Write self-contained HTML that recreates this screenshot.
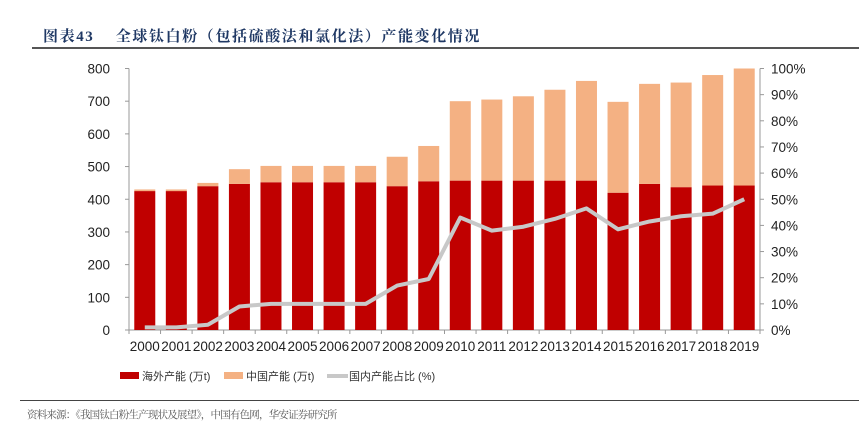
<!DOCTYPE html>
<html><head><meta charset="utf-8"><style>
body{margin:0;background:#fff;width:859px;height:433px;overflow:hidden;position:relative;font-family:"Liberation Sans","Noto Sans CJK SC",sans-serif;}
.t{position:absolute;white-space:nowrap;}
</style></head><body>
<div class="t" style="left:43px;top:25px;font-size:15px;font-weight:bold;color:#1f3864;font-family:'Liberation Serif','Noto Serif CJK SC',serif;letter-spacing:1.6px;">图表43&nbsp;&nbsp;&nbsp;&nbsp;全球钛白粉（包括硫酸法和氯化法）产能变化情况</div>
<div style="position:absolute;left:32px;top:47px;width:827px;height:2px;background:#555;"></div>
<svg id="c" width="859" height="433" style="position:absolute;left:0;top:0"></svg>
<div style="position:absolute;left:20px;top:400px;width:839px;height:1px;background:#444;"></div>
<div class="t" style="left:27px;top:407px;font-size:10.5px;color:#555;font-family:'Liberation Serif','Noto Serif CJK SC',serif;letter-spacing:-0.8px;">资料来源：《我国钛白粉生产现状及展望》，中国有色网，华安证券研究所</div>
<script>
const years=["2000","2001","2002","2003","2004","2005","2006","2007","2008","2009","2010","2011","2012","2013","2014","2015","2016","2017","2018","2019"];
const overseas=[425,425,440,447,452,452,452,452,440,455,457,457,457,457,457,420,447,437,442,442];
const china=[5,5,10,45,50,50,50,50,90,108,243,248,258,278,305,278,306,320,338,358];
const share=[1,1,2,9,10,10,10,10,17,19.5,43,38,39.5,42.5,46.5,38.5,41.5,43.5,44.5,50];
const leftTicks=[0,100,200,300,400,500,600,700,800];
const rightTicks=[0,10,20,30,40,50,60,70,80,90,100];
const NS="http://www.w3.org/2000/svg",svg=document.getElementById('c');
const X0=129,X1=760,Y0=330,Y1=68.5,n=years.length,bw=(X1-X0)/n,barW=21;
const yL=v=>Y0-(v/800)*(Y0-Y1), yR=p=>Y0-(p/100)*(Y0-Y1), xc=i=>X0+bw*(i+0.5);
function mk(t,a){const e=document.createElementNS(NS,t);for(const k in a)e.setAttribute(k,a[k]);svg.appendChild(e);return e;}
let e=mk('line',{x1:X0,y1:Y1,x2:X0,y2:Y0,stroke:'#999'});
e=mk('line',{x1:X1,y1:Y1,x2:X1,y2:Y0,stroke:'#999'});
e=mk('line',{x1:X0,y1:Y0,x2:X1,y2:Y0,stroke:'#999'});
leftTicks.forEach(v=>{mk('line',{x1:X0-4,y1:yL(v),x2:X0,y2:yL(v),stroke:'#999'});
 const t=mk('text',{x:X0-19,y:yL(v)+5,'text-anchor':'end','font-size':13.5,fill:'#222'});t.textContent=v;
 });
rightTicks.forEach(p=>{mk('line',{x1:X1,y1:yR(p),x2:X1+4,y2:yR(p),stroke:'#999'});
 const t=mk('text',{x:X1+11,y:yR(p)+5,'font-size':13.5,fill:'#222'});t.textContent=p+'%';
 });
for(let i=0;i<=n;i++)mk('line',{x1:X0+bw*i,y1:Y0,x2:X0+bw*i,y2:Y0+4,stroke:'#999'});
years.forEach((y,i)=>{
 let r=mk('rect',{x:xc(i)-barW/2,y:yL(overseas[i]),width:barW,height:Y0-yL(overseas[i]),fill:'#c00000'});
 
 let c=mk('rect',{x:xc(i)-barW/2,y:yL(overseas[i]+china[i]),width:barW,height:yL(overseas[i])-yL(overseas[i]+china[i]),fill:'#f4b183'});
 
 const t=mk('text',{x:xc(i),y:Y0+21,'text-anchor':'middle','font-size':13.5,fill:'#222'});t.textContent=y;
 
});
const pl=mk('polyline',{points:share.map((p,i)=>xc(i)+','+yR(p)).join(' '),fill:'none',stroke:'#c8c8c8','stroke-width':4,'stroke-linejoin':'round'});

const lg=[['rect',120,'#c00000','海外产能 (万t)','legend-overseas'],['rect',224,'#f4b183','中国产能 (万t)','legend-china'],['line',327,'#c8c8c8','国内产能占比 (%)','legend-share']];
lg.forEach(l=>{let s;
 if(l[0]==='rect')s=mk('rect',{x:l[1],y:372,width:19,height:7,fill:l[2]});
 else s=mk('line',{x1:l[1],y1:376,x2:l[1]+21,y2:376,stroke:l[2],'stroke-width':4});
 
 const t=mk('text',{x:l[1]+22,y:380,'font-size':11,fill:'#333'});t.textContent=l[3];
 });
</script>
</body></html>
